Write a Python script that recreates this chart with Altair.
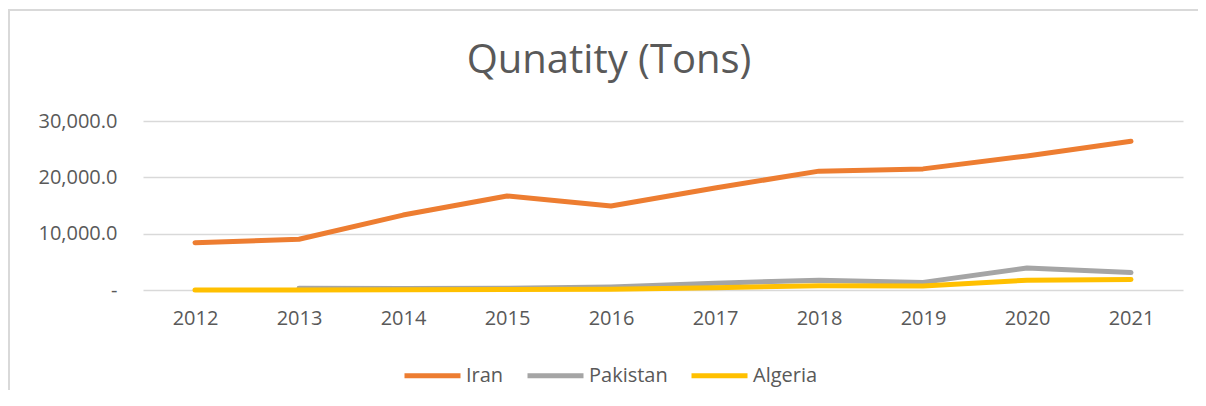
import altair as alt
import pandas as pd

years = ["2012", "2013", "2014", "2015", "2016", "2017", "2018", "2019", "2020", "2021"]
iran = [8400, 9000, 13300, 16700, 14900, 18100, 21100, 21500, 23800, 26400]
pakistan = [None, 300, 250, 300, 550, 1200, 1750, 1350, 3900, 3100]
algeria = [0, 0, 50, 100, 150, 400, 750, 700, 1750, 1850]
series = ["Iran", "Pakistan", "Algeria"]
colors = ["#ED7D31", "#A5A5A5", "#FFC000"]
y_ticks = [0, 10000, 20000, 30000]
title_text = ["Qunatity (Tons)"]

rows = []
for name, vals in zip(series, [iran, pakistan, algeria]):
    for yr, v in zip(years, vals):
        if v is not None:
            rows.append({"Year": yr, "Series": name, "Value": v})
df = pd.DataFrame(rows)

FONT = "Open Sans"
GRAY = "#595959"
GRID = "#D9D9D9"

x_enc = alt.X(
    "Year:N",
    sort=years,
    scale=alt.Scale(padding=0.5),
    axis=alt.Axis(
        title=None, grid=False, domain=False, ticks=False, tickSize=0,
        labelAngle=0, labelFont=FONT, labelFontSize=20, labelColor=GRAY,
        labelPadding=18,
    ),
)
y_enc = alt.Y(
    "Value:Q",
    scale=alt.Scale(domain=[0, 30000], nice=False),
    axis=alt.Axis(
        title=None, values=y_ticks, domain=False, ticks=False, tickSize=0,
        grid=True, gridColor=GRID, gridWidth=1.3,
        labelFont=FONT, labelFontSize=20, labelColor=GRAY, labelPadding=26,
        labelExpr="datum.value == 0 ? '-\u00a0\u00a0' : format(datum.value, ',.1f')",
    ),
)
color_enc = alt.Color(
    "Series:N",
    scale=alt.Scale(domain=series, range=colors),
    legend=alt.Legend(
        title=None, orient="none", legendX=259, legendY=224, direction="horizontal",
        symbolType="stroke", symbolSize=3136, symbolStrokeWidth=5,
        labelFont=FONT, labelFontSize=20, labelColor=GRAY,
        columnPadding=13, labelOffset=3, padding=0,
    ),
)

layers = []
for name in series:
    layers.append(
        alt.Chart(df)
        .transform_filter(alt.datum.Series == name)
        .mark_line(strokeWidth=5, strokeCap="round", strokeJoin="round")
        .encode(x=x_enc, y=y_enc, color=color_enc)
    )

frame_df = pd.DataFrame({"k": [0]})
left_frame = alt.Chart(frame_df).mark_rule(color=GRID, strokeWidth=2).encode(
    x=alt.value(-134), y=alt.value(-112), y2=alt.value(300)
)
top_frame = alt.Chart(frame_df).mark_rule(color=GRID, strokeWidth=2).encode(
    x=alt.value(-134), x2=alt.value(1100), y=alt.value(-111)
)
title_mark = alt.Chart(pd.DataFrame({"t": title_text})).mark_text(
    font=FONT, fontSize=40, color=GRAY, align="center", baseline="alphabetic"
).encode(text="t:N", x=alt.value(466), y=alt.value(-48))

chart = (
    alt.layer(left_frame, top_frame, title_mark, *layers)
    .properties(
        width=1040,
        height=169,
        autosize=alt.AutoSizeParams(type="none"),
        padding={"left": 135, "top": 113, "right": 15, "bottom": 100},
    )
    .configure_view(stroke=None)
)

chart.save("out.html", embed_options={"renderer": "svg", "actions": False})
